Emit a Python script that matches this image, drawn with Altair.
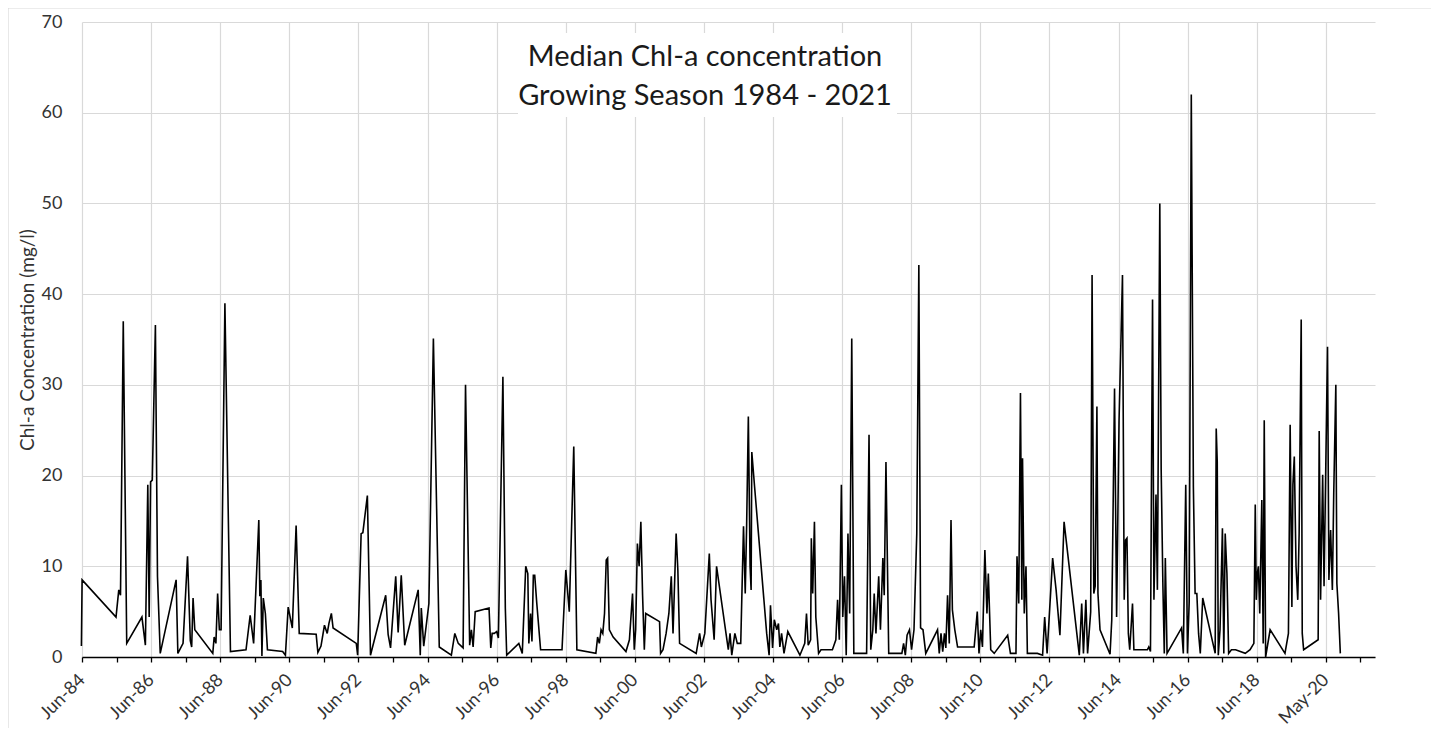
import altair as alt
import pandas as pd

TITLE_LINES = ["Median Chl-a concentration", "Growing Season 1984 - 2021"]
Y_TITLE = "Chl-a Concentration (mg/l)"

MAJOR_TICKS = ["1984-06-09", "1986-06-09", "1988-06-08", "1990-06-08", "1992-06-07",
               "1994-06-07", "1996-06-06", "1998-06-06", "2000-06-05", "2002-06-05",
               "2004-06-04", "2006-06-04", "2008-06-03", "2010-06-03", "2012-06-02",
               "2014-06-02", "2016-06-01", "2018-06-01", "2020-05-31"]
MINOR_TICKS = ["1985-06-09", "1987-06-09", "1989-06-08", "1991-06-08", "1993-06-07",
               "1995-06-07", "1997-06-06", "1999-06-06", "2001-06-05", "2003-06-05",
               "2005-06-04", "2007-06-04", "2009-06-03", "2011-06-03", "2013-06-02",
               "2015-06-02", "2017-06-01", "2019-06-01", "2021-05-31"]
X_DOMAIN = ["1984-06-09", "2021-11-01"]
Y_TICKS = [0, 10, 20, 30, 40, 50, 60, 70]

# sample time (decimal year) and median Chl-a value
years = [
    1984.42, 1984.44, 1985.42, 1985.50, 1985.55, 1985.63, 1985.73, 1986.17, 1986.27, 1986.34,
    1986.38, 1986.42, 1986.47, 1986.56, 1986.62, 1986.70, 1987.16, 1987.21, 1987.36, 1987.49,
    1987.57, 1987.61, 1987.65, 1987.70, 1988.22, 1988.26, 1988.31, 1988.36, 1988.41, 1988.46,
    1988.57, 1988.73, 1989.18, 1989.30, 1989.40, 1989.55, 1989.58, 1989.61, 1989.64, 1989.68,
    1989.74, 1989.80, 1990.24, 1990.32, 1990.40, 1990.52, 1990.63, 1990.72, 1991.21, 1991.26,
    1991.35, 1991.45, 1991.53, 1991.58, 1991.65, 1991.70, 1992.37, 1992.41, 1992.51, 1992.56,
    1992.69, 1992.78, 1993.22, 1993.29, 1993.36, 1993.51, 1993.58, 1993.67, 1993.77, 1994.16,
    1994.22, 1994.25, 1994.32, 1994.47, 1994.60, 1994.77, 1995.12, 1995.22, 1995.32, 1995.46,
    1995.53, 1995.65, 1995.70, 1995.75, 1995.81, 1996.21, 1996.26, 1996.30, 1996.36, 1996.43,
    1996.48, 1996.61, 1996.68, 1996.72, 1997.07, 1997.17, 1997.27, 1997.33, 1997.36, 1997.41,
    1997.45, 1997.49, 1997.53, 1997.59, 1997.70, 1998.32, 1998.43, 1998.53, 1998.66, 1998.75,
    1999.30, 1999.35, 1999.40, 1999.45, 1999.50, 1999.55, 1999.60, 1999.64, 1999.69, 1999.80,
    2000.17, 2000.27, 2000.36, 2000.41, 2000.45, 2000.50, 2000.55, 2000.60, 2000.65, 2000.70,
    2000.74, 2001.14, 2001.17, 2001.24, 2001.33, 2001.41, 2001.48, 2001.53, 2001.62, 2001.67,
    2001.72, 2002.20, 2002.30, 2002.35, 2002.45, 2002.58, 2002.63, 2002.72, 2002.79, 2003.13,
    2003.18, 2003.23, 2003.32, 2003.39, 2003.49, 2003.57, 2003.62, 2003.66, 2003.71, 2003.76,
    2003.79, 2003.81, 2003.89, 2004.24, 2004.31, 2004.35, 2004.41, 2004.46, 2004.53, 2004.58,
    2004.62, 2004.67, 2004.74, 2004.85, 2005.20, 2005.34, 2005.39, 2005.44, 2005.51, 2005.53,
    2005.57, 2005.62, 2005.66, 2005.74, 2005.81, 2006.14, 2006.24, 2006.29, 2006.34, 2006.40,
    2006.44, 2006.49, 2006.54, 2006.59, 2006.64, 2006.70, 2006.76, 2007.13, 2007.20, 2007.25,
    2007.31, 2007.35, 2007.40, 2007.48, 2007.53, 2007.60, 2007.64, 2007.69, 2007.77, 2008.15,
    2008.20, 2008.25, 2008.30, 2008.37, 2008.43, 2008.50, 2008.58, 2008.64, 2008.69, 2008.76,
    2008.84, 2009.18, 2009.23, 2009.28, 2009.33, 2009.38, 2009.42, 2009.47, 2009.52, 2009.57,
    2009.61, 2009.68, 2009.76, 2010.24, 2010.33, 2010.38, 2010.43, 2010.48, 2010.55, 2010.61,
    2010.65, 2010.72, 2010.82, 2011.21, 2011.29, 2011.45, 2011.48, 2011.53, 2011.58, 2011.62,
    2011.64, 2011.69, 2011.74, 2011.78, 2012.07, 2012.22, 2012.28, 2012.35, 2012.51, 2012.61,
    2012.72, 2012.84, 2013.28, 2013.35, 2013.40, 2013.47, 2013.52, 2013.61, 2013.65, 2013.70,
    2013.74, 2013.79, 2013.82, 2013.88, 2014.17, 2014.22, 2014.30, 2014.36, 2014.43, 2014.53,
    2014.58, 2014.62, 2014.66, 2014.70, 2014.74, 2014.82, 2014.86, 2015.25, 2015.29, 2015.34,
    2015.40, 2015.44, 2015.50, 2015.54, 2015.61, 2015.65, 2015.70, 2015.74, 2015.77, 2015.82,
    2016.24, 2016.29, 2016.36, 2016.41, 2016.46, 2016.52, 2016.58, 2016.63, 2016.68, 2016.73,
    2016.78, 2016.85, 2017.21, 2017.24, 2017.27, 2017.30, 2017.35, 2017.42, 2017.46, 2017.50,
    2017.55, 2017.60, 2017.68, 2017.80, 2018.08, 2018.22, 2018.33, 2018.37, 2018.40, 2018.43,
    2018.46, 2018.50, 2018.56, 2018.60, 2018.63, 2018.67, 2018.80, 2019.23, 2019.33, 2019.38,
    2019.43, 2019.46, 2019.50, 2019.55, 2019.60, 2019.64, 2019.70, 2019.73, 2019.77, 2020.19,
    2020.22, 2020.26, 2020.32, 2020.36, 2020.40, 2020.46, 2020.50, 2020.55, 2020.60, 2020.64,
    2020.70, 2020.73, 2020.78, 2020.83,
]
chla = [
    1.2, 8.5, 4.4, 7.4, 6.8, 37.0, 1.5, 4.4, 1.3, 19.0,
    4.4, 19.3, 19.5, 36.6, 8.9, 0.4, 8.5, 0.4, 1.5, 11.1,
    1.8, 1.1, 6.5, 3.0, 0.4, 2.2, 1.5, 7.0, 3.0, 3.0,
    39.0, 0.6, 0.8, 4.6, 1.5, 15.1, 6.7, 8.5, 0.1, 6.5,
    4.8, 0.8, 0.6, 0.2, 5.5, 3.2, 14.5, 2.6, 2.5, 0.5,
    1.2, 3.5, 2.6, 3.7, 4.8, 3.2, 1.5, 0.2, 13.6, 13.7,
    17.8, 0.2, 6.8, 2.5, 1.0, 8.9, 2.7, 9.0, 1.3, 7.4,
    0.2, 5.4, 1.2, 5.9, 35.1, 1.1, 0.2, 2.6, 1.5, 1.0,
    30.0, 1.3, 3.0, 1.1, 5.0, 5.4, 1.0, 2.6, 2.6, 2.8,
    2.1, 30.9, 5.4, 0.2, 1.5, 0.4, 10.0, 9.2, 1.5, 4.8,
    1.7, 9.0, 9.0, 5.9, 0.8, 0.8, 9.6, 5.0, 23.2, 0.8,
    0.4, 2.2, 1.5, 3.0, 2.6, 4.8, 10.7, 10.9, 3.0, 2.2,
    0.6, 1.9, 7.0, 0.8, 3.0, 12.5, 10.0, 14.9, 6.8, 0.8,
    4.8, 3.9, 0.4, 0.8, 2.6, 4.8, 8.9, 2.6, 13.6, 9.6,
    1.5, 0.4, 2.6, 1.1, 2.6, 11.4, 6.3, 1.9, 10.0, 0.8,
    2.6, 0.2, 2.6, 1.5, 1.5, 14.4, 7.0, 14.4, 26.5, 10.0,
    7.4, 22.6, 18.8, 2.6, 0.2, 5.7, 1.0, 4.1, 3.0, 3.7,
    1.1, 2.6, 0.4, 2.8, 0.2, 1.5, 4.8, 1.3, 1.9, 13.1,
    7.0, 14.9, 4.4, 0.4, 0.8, 0.8, 1.9, 6.3, 1.9, 19.0,
    4.4, 8.9, 0.2, 13.6, 4.8, 35.1, 0.4, 0.4, 24.5, 0.8,
    3.0, 7.0, 2.6, 8.9, 3.0, 10.9, 6.8, 21.5, 0.4, 0.4,
    1.5, 0.2, 2.4, 3.0, 0.8, 3.0, 13.6, 43.2, 3.2, 3.0,
    0.4, 3.0, 0.4, 2.6, 0.6, 2.6, 1.0, 6.8, 1.5, 15.1,
    5.2, 3.0, 1.1, 1.1, 5.0, 0.4, 3.0, 1.1, 11.8, 4.8,
    9.2, 0.8, 0.4, 2.4, 0.4, 0.4, 11.1, 5.9, 29.1, 6.3,
    21.9, 4.8, 10.0, 0.4, 0.4, 0.2, 4.4, 0.4, 10.9, 7.4,
    2.4, 14.9, 0.2, 5.9, 0.4, 6.3, 0.4, 5.0, 42.1, 7.0,
    7.8, 27.6, 7.0, 3.0, 0.3, 4.1, 29.6, 4.4, 26.0, 42.1,
    6.3, 12.9, 13.1, 2.6, 0.8, 5.9, 0.8, 0.8, 1.1, 0.6,
    39.4, 6.3, 17.9, 7.4, 50.0, 20.6, 7.8, 0.4, 10.9, 0.4,
    3.2, 0.4, 19.0, 0.4, 6.1, 62.0, 18.8, 7.0, 7.0, 2.6,
    0.4, 6.5, 0.4, 25.2, 21.5, 0.2, 3.0, 14.2, 0.4, 13.6,
    9.2, 0.4, 0.8, 0.8, 0.4, 0.8, 1.5, 16.8, 6.3, 9.2,
    10.0, 4.8, 17.3, 1.5, 26.1, 0.0, 3.0, 0.4, 2.6, 25.6,
    5.5, 19.0, 22.1, 10.0, 6.3, 13.6, 37.2, 2.6, 0.8, 1.9,
    24.9, 6.3, 20.1, 7.8, 18.4, 34.2, 8.5, 14.0, 7.4, 18.1,
    30.0, 8.1, 4.8, 0.4,
]


def decimal_year_to_iso(d):
    y = int(d)
    start = pd.Timestamp(year=y, month=1, day=1)
    end = pd.Timestamp(year=y + 1, month=1, day=1)
    return (start + (end - start) * (d - y)).strftime("%Y-%m-%dT%H:%M:%S")


def to_dt(s):
    t = pd.Timestamp(s)
    return alt.DateTime(year=t.year, month=t.month, date=t.day)


df = pd.DataFrame({"date": [decimal_year_to_iso(v) for v in years], "value": chla})

W, H = 1293, 635
FONT = "Lato"
TXT = "#333333"
GRID = "#d9d9d9"

all_ticks = [to_dt(s) for s in sorted(MAJOR_TICKS + MINOR_TICKS)]

x_axis = alt.Axis(
    values=all_ticks,
    labelExpr="year(datum.value) % 2 == 0 ? timeFormat(datum.value, '%b-%y') : ''",
    labelAngle=315, labelAlign="right", labelBaseline="middle",
    labelFont=FONT, labelFontSize=18, labelColor=TXT, labelPadding=15,
    labelOverlap=False, labelBound=False, labelFlush=False,
    grid=True, gridColor=GRID, gridWidth=1.2,
    gridOpacity={"condition": {"test": "year(datum.value) % 2 == 1", "value": 0}, "value": 1},
    domain=True, domainColor="#000000", domainWidth=1.5,
    ticks=True, tickColor="#000000", tickSize=5, tickWidth=1.3,
    title=None,
)

y_axis = alt.Axis(
    values=Y_TICKS, format="d",
    labelFont=FONT, labelFontSize=18, labelColor=TXT, labelPadding=20,
    grid=True, gridColor=GRID, gridWidth=1.2,
    domain=False, ticks=False,
    title=Y_TITLE, titleFont=FONT, titleFontSize=19, titleFontWeight="normal",
    titleColor=TXT, titlePadding=4,
)

line = alt.Chart(df).mark_line(color="#000000", strokeWidth=1.6, clip=False).encode(
    x=alt.X("date:T", scale=alt.Scale(domain=[to_dt(X_DOMAIN[0]), to_dt(X_DOMAIN[1])]), axis=x_axis),
    y=alt.Y("value:Q", scale=alt.Scale(domain=[0, 70], nice=False), axis=y_axis),
)

one = pd.DataFrame({"t": [0]})
border = alt.Chart(one).mark_rect(fill="white", fillOpacity=0, stroke=GRID, strokeWidth=1.2).encode(
    x=alt.value(-74), x2=alt.value(W + 100), y=alt.value(-14), y2=alt.value(H + 100)
)
title_box = alt.Chart(one).mark_rect(fill="white", stroke=None).encode(
    x=alt.value(436), x2=alt.value(815), y=alt.value(11), y2=alt.value(95)
)
t1 = alt.Chart(pd.DataFrame({"t": [TITLE_LINES[0]]})).mark_text(
    font=FONT, fontSize=29, color="#1a1a1a", align="center", baseline="middle"
).encode(text="t:N", x=alt.value(623), y=alt.value(35))
t2 = alt.Chart(pd.DataFrame({"t": [TITLE_LINES[1]]})).mark_text(
    font=FONT, fontSize=29, color="#1a1a1a", align="center", baseline="middle"
).encode(text="t:N", x=alt.value(623), y=alt.value(74))

chart = alt.layer(border, line, title_box, t1, t2).properties(
    width=W, height=H,
    autosize=alt.AutoSizeParams(type="none"),
    padding={"left": 74, "top": 14, "right": 56, "bottom": 71},
    background="white",
).configure_view(stroke=None)

chart.save("out.html", embed_options={"renderer": "svg", "actions": False})
